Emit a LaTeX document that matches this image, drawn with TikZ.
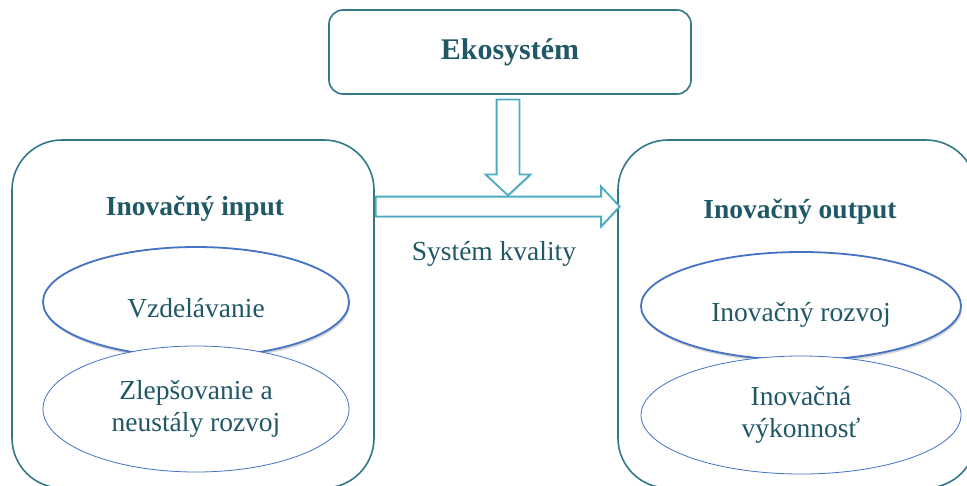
\documentclass[tikz,border=0pt]{standalone}
\usepackage{fontspec}
\setmainfont{Liberation Serif}
\usetikzlibrary{positioning,shapes.geometric,shapes.arrows,shadows}
\definecolor{tealline}{HTML}{31788A}
\definecolor{skyline}{HTML}{4BACC6}
\definecolor{ovalline}{HTML}{4472C4}
\definecolor{inktext}{HTML}{215868}

\begin{document}
\begin{tikzpicture}[x=1pt,y=-1pt,
    panel/.style={draw=tealline,line width=1.6pt,fill=white},
    heading/.style={font=\fontsize{27.5}{32}\selectfont\bfseries,text=inktext,anchor=base},
    oval/.style={ellipse,draw=ovalline,fill=white,text=inktext,font=\fontsize{27.5}{32}\selectfont,align=center,inner sep=0pt},
    oneline/.style={text height=34pt,text depth=4pt},
    softshadow/.style={drop shadow={shadow xshift=1pt,shadow yshift=-2.5pt,fill=black!70,opacity=.25}},
    blockarrow/.style={single arrow,draw=skyline,line width=1.8pt,fill=white,minimum width=0pt,single arrow tip angle=94,anchor=tail,
      drop shadow={shadow xshift=.8pt,shadow yshift=-1.5pt,fill=black!70,opacity=.2}}]
  \useasboundingbox (0,0) rectangle (967,485);
  % top box
  \node[panel,rounded corners=14pt,minimum width=362pt,minimum height=84pt,
    font=\fontsize{30}{34}\selectfont\bfseries,text=inktext] (eko) at (510,52) {Ekosystém};
  % two side panels
  \node[panel,rounded corners=50pt,minimum width=362pt,minimum height=348pt] (inbox) at (193,314) {};
  \node[panel,rounded corners=50pt,minimum width=358pt,minimum height=348pt] (outbox) at (797,314) {};
  \node[heading] (intitle) at (195,215) {Inovačný input};
  \node[heading] (outtitle) at (800,218) {Inovačný output};
  % ovals, left
  \node[oval,oneline,line width=1.8pt,softshadow,minimum width=306pt,minimum height=110pt] (edu) at (196,302) {Vzdelávanie};
  \node[oval,line width=.8pt,minimum width=306pt,minimum height=126pt] (improve) at (196,409) {Zlepšovanie a\\neustály rozvoj};
  % ovals, right
  \node[oval,oneline,line width=1.8pt,softshadow,minimum width=320pt,minimum height=108pt] (devel) at (801,306) {Inovačný rozvoj};
  \node[oval,line width=.8pt,minimum width=320pt,minimum height=118pt] (perform) at (801,415) {Inovačná\\výkonnosť};
  % arrows
  \node[blockarrow,rotate=-90,inner sep=10.5pt,single arrow head extend=11pt,minimum height=96pt] (feed) at (508,98.5) {};
  \node[blockarrow,inner sep=9pt,single arrow head extend=10pt,minimum height=244pt] (flow) at (inbox.east |- 0,206.5) {};
  \node[font=\fontsize{27.5}{32}\selectfont,text=inktext,anchor=base] (quality) at (494,260) {Systém kvality};
\end{tikzpicture}
\end{document}
